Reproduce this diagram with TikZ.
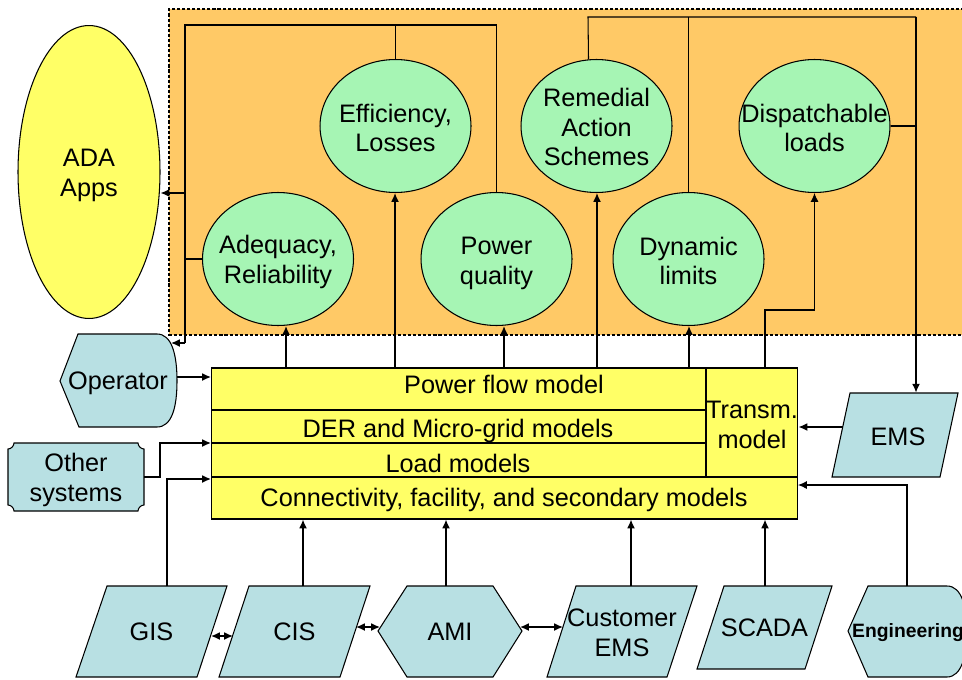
\documentclass[tikz,border=0pt]{standalone}
\usepackage{fontspec}
\setmainfont{Liberation Sans}
\usetikzlibrary{shapes.geometric,arrows.meta,calc}
\definecolor{orng}{HTML}{FFC966}
\definecolor{grn}{HTML}{A6F5B4}
\definecolor{yel}{HTML}{FFFF66}
\definecolor{blu}{HTML}{B8E0E3}
\begin{document}
\begin{tikzpicture}[x=0.02cm,y=-0.02cm,
  every node/.style={font=\fontsize{14.4}{17}\selectfont, align=center, inner sep=0pt},
  greenell/.style={ellipse, draw, fill=grn, line width=0.6pt, minimum width=3.02cm, minimum height=2.66cm},
  sysshape/.style={draw, fill=blu, line width=0.6pt},
  arr/.style={line width=0.85pt, -{Latex[length=5pt,width=4.5pt]}},
  darr/.style={line width=0.85pt, {Latex[length=5pt,width=4.5pt]}-{Latex[length=5pt,width=4.5pt]}},
  bus/.style={line width=0.6pt}
]
\useasboundingbox (0,0) rectangle (962,679);
\clip (0,0) rectangle (962,679);

% orange application area
\fill[orng] (169,9) rectangle (990,335);
\draw[line width=0.65pt, dash pattern=on 1.8pt off 1.1pt] (990,9) -- (169,9) -- (169,335) -- (990,335);

% ADA Apps
\node[ellipse, draw, fill=yel, line width=0.6pt, minimum width=2.84cm, minimum height=5.86cm] (ada) at (89,172) {};
\node (ada-t) at (89,175) {ADA\\Apps};

% green ellipses
\node[greenell] (eff)  at (395.5,126) {};
\node[greenell] (adeq) at (278,259) {};
\node[greenell] (pq)   at (496.5,259) {};
\node[greenell] (ras)  at (596.5,126) {};
\node[greenell] (dyn)  at (688.5,259) {};
\node[greenell] (disp) at (814.5,126) {};
\node (eff-t)  at (395.5,128) {Efficiency,\\Losses};
\node (adeq-t) at (278,262) {Adequacy,\\Reliability};
\node (pq-t)   at (496.5,263) {Power\\quality};
\node (ras-t)  at (596.5,127) {Remedial\\Action\\Schemes};
\node (dyn-t)  at (688.5,261) {Dynamic\\limits};
\node (disp-t) at (814.5,128) {Dispatchable\\loads};

% model box
\node[draw, fill=yel, line width=0.6pt, minimum width=11.74cm, minimum height=3.02cm] (model) at (504.5,443.5) {};
\coordinate (r1) at (211,410);
\coordinate (r2) at (211,443);
\coordinate (r3) at (211,477);
\coordinate (vT) at (706,368);
\coordinate (vB) at (706,477);
\draw[line width=0.6pt] (r1) -- (r1 -| vT);
\draw[line width=0.6pt] (r2) -- (r2 -| vT);
\draw[line width=0.6pt] (r3) -- (r3 -| model.east);
\draw[line width=0.6pt] (vT) -- (vB);
\node (pfm)  at (504,384) {Power flow model};
\node (der)  at (458,431) {DER and Micro-grid models};
\node (lm)   at (458,463) {Load models};
\node (conn) at (504,500) {Connectivity, facility, and secondary models};
\node (trm)  at (752,425) {Transm.\\model};

% Operator
\path[sysshape] (60,381) -- (78,334) -- (157,334) .. controls (172,334) and (177,355) .. (177,381) .. controls (177,407) and (172,427) .. (157,427) -- (79,427) -- cycle;
\node[minimum width=2.34cm, minimum height=1.86cm] (op) at (118.5,380.5) {};
\node (op-t) at (118,383) {Operator};

% Other systems
\path[sysshape] (14,443) -- (138,443) .. controls (138,446) and (141,449) .. (144,449) -- (144,505) .. controls (141,505) and (138,508) .. (138,511) -- (14,511) .. controls (14,508) and (11,505) .. (8,505) -- (8,449) .. controls (11,449) and (14,446) .. (14,443) -- cycle;
\node[minimum width=2.72cm, minimum height=1.36cm] (oth) at (76,477) {};
\node (oth-t) at (76,480) {Other\\systems};

% EMS
\path[sysshape] (850,393) -- (958,393) -- (940,477) -- (832,477) -- cycle;
\node[minimum width=2.52cm, minimum height=1.68cm] (ems) at (895,435) {};
\node (ems-t) at (898,437) {EMS};

% bottom row
\path[sysshape] (107,586) -- (227,586) -- (197,677) -- (76,677) -- cycle;
\node[minimum width=3.02cm, minimum height=1.82cm] (gis) at (151.5,632) {GIS};
\path[sysshape] (249,586) -- (370,586) -- (340,677) -- (219,677) -- cycle;
\node[minimum width=3.02cm, minimum height=1.82cm] (cis) at (294.5,632) {CIS};
\path[sysshape] (378,631) -- (407,586) -- (493,586) -- (522,631) -- (493,677) -- (407,677) -- cycle;
\node[minimum width=2.88cm, minimum height=1.82cm] (ami) at (450,632) {AMI};
\path[sysshape] (576,586) -- (697,586) -- (667,677) -- (547,677) -- cycle;
\node[minimum width=3.0cm, minimum height=1.82cm] (cems) at (622,632.5) {Customer\\EMS};
\path[sysshape] (724,586) -- (832,586) -- (805,669) -- (697,669) -- cycle;
\node[minimum width=2.7cm, minimum height=1.66cm] (scada) at (764.5,628) {SCADA};
\path[sysshape] (848,631) -- (868,586) -- (947,586) .. controls (962,586) and (967,608) .. (967,631) .. controls (967,654) and (962,677) .. (947,677) -- (868,677) -- cycle;
\node[minimum width=2.38cm, minimum height=1.82cm] (eng) at (907.5,631.5) {};
\node (eng-t) at (908,633) {\fontsize{11}{13}\selectfont\bfseries Engineering};

% left bus to ADA Apps and Operator
\coordinate (lbT) at (185,25);
\coordinate (lbA) at (185,193);
\coordinate (lbB) at (185,343);
\coordinate (opIn) at (171,343);
\draw[bus] (pq.north) |- (lbT) -- (lbB);
\draw[bus] (eff.north) -- (eff.north |- lbT);
\draw[bus] (adeq.west) -- (adeq.west -| lbT);
\draw[arr] (lbA) -- (lbA -| ada.east);
\draw[arr] (lbB) -- (opIn);

% right bus to EMS
\coordinate (rbL) at (588,17);
\coordinate (rbR) at (916,17);
\draw[bus] ($(ras.north)+(-8,0.4)$) -- (rbL) -- (rbR);
\draw[bus] (dyn.north) -- (dyn.north |- rbL);
\draw[bus] (disp.east) -- (disp.east -| rbR);
\draw[arr] (rbR) -- (rbR |- ems.north);

% model to applications
\coordinate (u1) at (286,368);
\coordinate (u2) at (395,368);
\coordinate (u3) at (504,368);
\coordinate (u4) at (597,368);
\coordinate (u5) at (689,368);
\coordinate (u6) at (765,368);
\draw[arr] (u1) -- (u1 |- adeq.south);
\draw[arr] (u2) -- (u2 |- eff.south);
\draw[arr] (u3) -- (u3 |- pq.south);
\draw[arr] (u4) -- (u4 |- ras.south);
\draw[arr] (u5) -- (u5 |- dyn.south);
\draw[bus, -{Latex[length=5pt,width=4.5pt]}] (u6) -- ++(0,-58) -| (disp.south);

% inputs on the left
\coordinate (opOut) at (177,377);
\coordinate (m1) at (211,377);
\draw[arr] (opOut) -- (m1);
\coordinate (othOut) at (144,477);
\draw[arr] (othOut) -- ++(16,0) |- (r2);
\coordinate (gisT) at (167,586);
\coordinate (m4) at (211,479);
\draw[arr] (gisT) |- (m4);

% inputs from below
\coordinate (cisT) at (303,586);
\coordinate (amiT) at (446,586);
\coordinate (cemsT) at (631,586);
\coordinate (scadaT) at (765,586);
\draw[arr] (cisT) -- (cisT |- model.south);
\draw[arr] (amiT) -- (amiT |- model.south);
\draw[arr] (cemsT) -- (cemsT |- model.south);
\draw[arr] (scadaT) -- (scadaT |- model.south);
\coordinate (engT) at (907,586);
\coordinate (m5) at (798,485);
\draw[bus, -{Latex[length=5pt,width=4.5pt]}] (engT) |- (m5);

% EMS to transmission model
\coordinate (emsOut) at (843,427);
\draw[arr] (emsOut) -- (emsOut -| model.east);

% exchanges in bottom row
\coordinate (d1a) at (211,636);
\coordinate (d1b) at (233,636);
\coordinate (d2a) at (356,627);
\coordinate (d2b) at (380,627);
\coordinate (d3a) at (520,627);
\coordinate (d3b) at (563,627);
\draw[darr] (d1a) -- (d1b);
\draw[darr] (d2a) -- (d2b);
\draw[darr] (d3a) -- (d3b);
\end{tikzpicture}
\end{document}
